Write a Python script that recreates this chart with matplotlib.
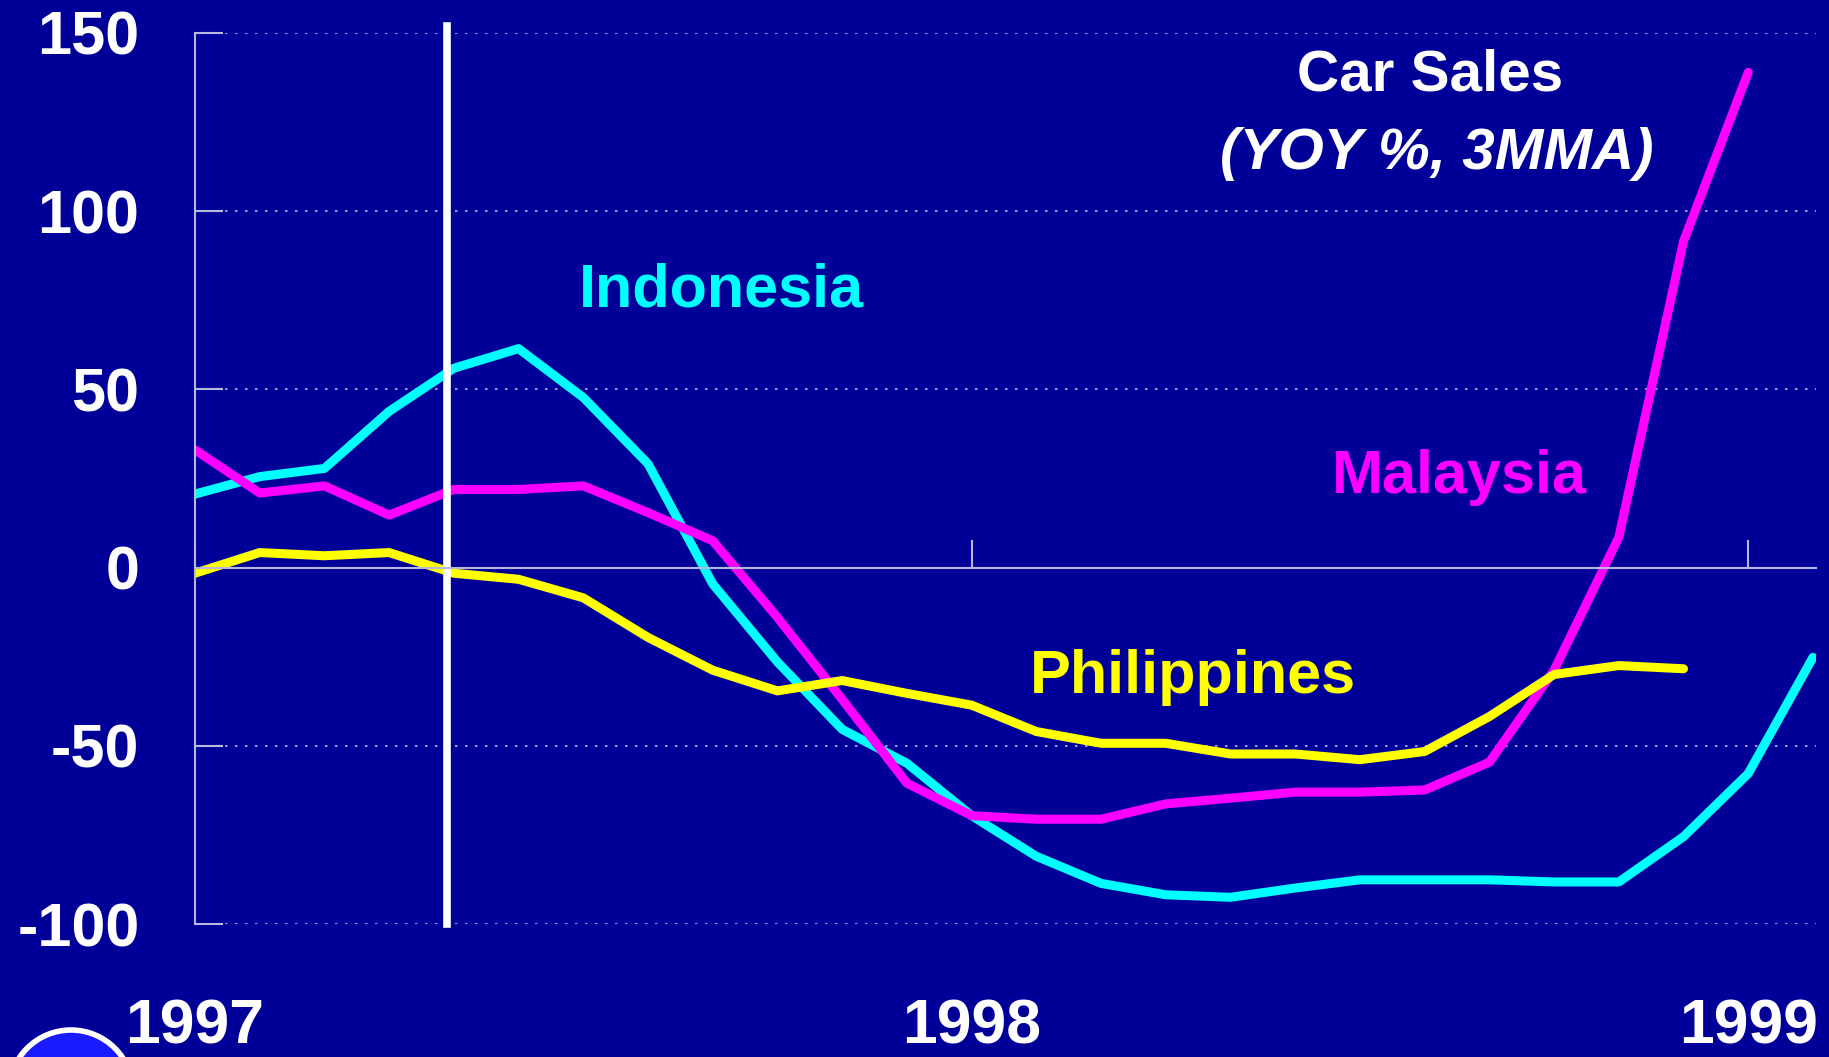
import numpy as np
import matplotlib
matplotlib.use("Agg")
import matplotlib.pyplot as plt
from matplotlib.patches import Ellipse

# monthly values, Jan 1997 = 0
indonesia = [20.6, 25.5, 27.8, 43.8, 55.9, 61.4, 47.7, 29.1, -4.6, -26.5, -45.4, -54.9,
             -69.6, -81.0, -88.6, -91.8, -92.5, -89.9, -87.6, -87.6, -87.6, -88.2, -88.2,
             -75.5, -57.8, -25.2]
malaysia = [33.0, 20.9, 22.9, 14.7, 21.9, 21.9, 22.9, 15.4, 7.5, -14.0, -37.0, -60.5,
            -69.6, -70.6, -70.6, -66.3, -64.7, -63.0, -63.0, -62.4, -54.6, -28.8, 8.5,
            91.5, 138.9]
philippines = [-1.6, 4.2, 3.3, 4.2, -1.6, -3.3, -8.5, -19.6, -28.8, -34.6, -31.7, -35.3,
               -38.6, -46.0, -49.3, -49.3, -52.3, -52.3, -53.9, -51.6, -41.8, -30.0, -27.5,
               -28.4]
year_ticks = [0, 12, 24]
year_labels = ["1997", "1998", "1999"]
y_ticks = [-100, -50, 0, 50, 100, 150]
crisis_month = 3.9

bg = "#000099"
grey = "#b8b8dc"
plt.rcParams["font.family"] = ["Liberation Sans", "DejaVu Sans"]
plt.rcParams["font.weight"] = "bold"

fig = plt.figure(figsize=(18.29, 10.57), dpi=100, facecolor=bg)
ax = fig.add_axes([0.1066, 0.1258, 0.993 - 0.1066, 0.969 - 0.1258], facecolor=bg)

ax.plot(np.arange(len(indonesia)), indonesia, color="#00ffff", lw=6.5, solid_capstyle="round")
ax.plot(np.arange(len(malaysia)), malaysia, color="#ff00ff", lw=6.5, solid_capstyle="round")
ax.plot(np.arange(len(philippines)), philippines, color="#ffff00", lw=6.5, solid_capstyle="round")

ax.plot([crisis_month, crisis_month], [-100, 152], color="white", lw=5.5, clip_on=False)

ax.set_xlim(0, 25.05)
ax.set_ylim(-100, 150)

for v in y_ticks:
    if v != 0:
        ax.axhline(v, color=grey, lw=1.2, ls=(0, (1.5, 4.5)), zorder=0)

for s in ["top", "right"]:
    ax.spines[s].set_visible(False)
ax.spines["bottom"].set_position(("data", 0))
ax.spines["bottom"].set_color(grey)
ax.spines["bottom"].set_linewidth(1.5)
ax.spines["left"].set_color(grey)
ax.spines["left"].set_linewidth(1.5)

ax.set_yticks(y_ticks)
ax.set_yticklabels([str(v) for v in y_ticks])
ax.tick_params(axis="y", direction="in", length=20, width=1.5, color=grey,
               labelcolor="white", labelsize=44, pad=40)
ax.set_xticks(year_ticks)
ax.set_xticklabels([])
ax.tick_params(axis="x", direction="in", length=20, width=1.5, color=grey)

for x, lab in zip(year_ticks, year_labels):
    ax.text(x, -0.115, lab, transform=ax.get_xaxis_transform(), color="white",
            fontsize=45, fontweight="bold", ha="center", va="center")

ax.text(8.13, 73.2, "Indonesia", color="#00ffff", fontsize=44, fontweight="bold", ha="center", va="baseline")
ax.text(19.53, 20.9, "Malaysia", color="#ff00ff", fontsize=44, fontweight="bold", ha="center", va="baseline")
ax.text(15.42, -35.3, "Philippines", color="#ffff00", fontsize=44, fontweight="bold", ha="center", va="baseline")
ax.text(19.08, 133.7, "Car Sales", color="white", fontsize=42, fontweight="bold", ha="center", va="baseline")
ax.text(19.19, 111.8, "(YOY %, 3MMA)", color="white", fontsize=42, fontweight="bold",
        fontstyle="italic", ha="center", va="baseline")

# partial logo in the corner
logo = Ellipse((71 / 1829, 1 - 1092 / 1057), 2 * 62 / 1829, 2 * 62 / 1057,
               transform=fig.transFigure, facecolor="#1a1aff", edgecolor="white",
               lw=4, clip_on=False)
fig.patches.append(logo)

fig.savefig("out.png", dpi=100, facecolor=bg)
